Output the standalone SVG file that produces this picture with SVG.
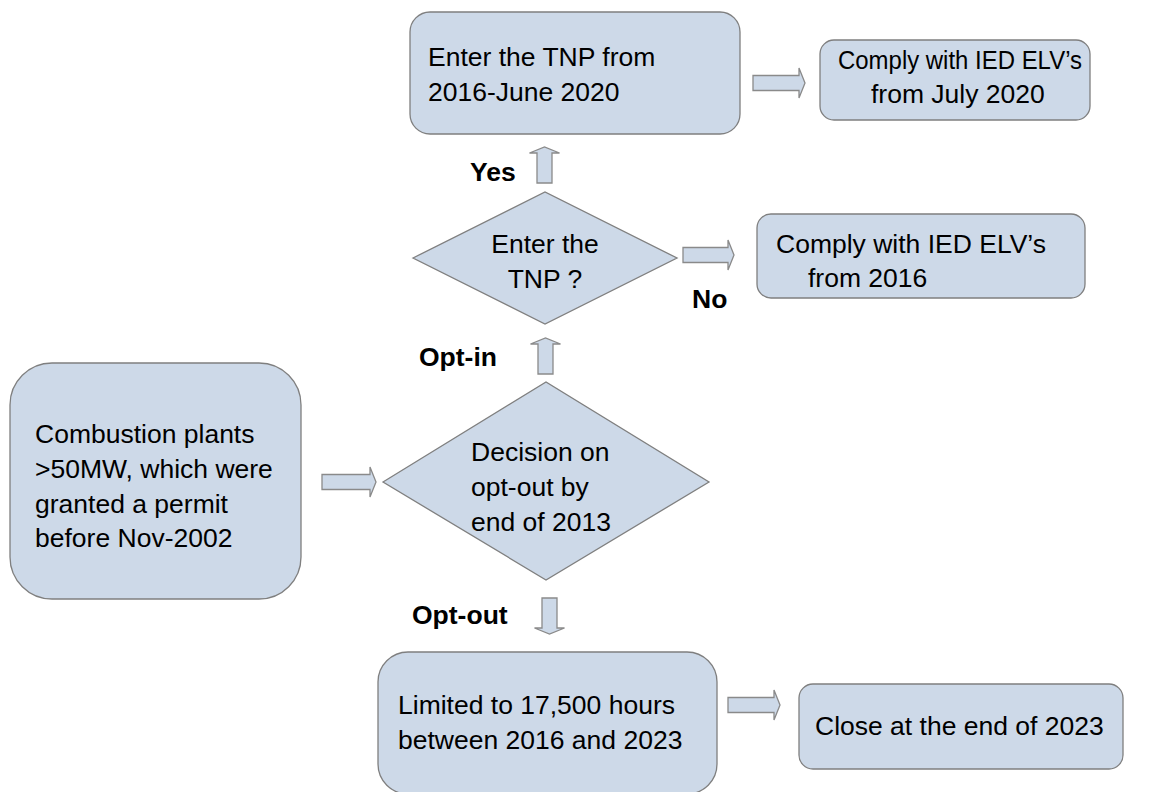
<svg xmlns="http://www.w3.org/2000/svg" width="1159" height="792" viewBox="0 0 1159 792">
<style>
.n{fill:#cdd9e8;stroke:#7f7f7f;stroke-width:1.3}
.a{fill:#cdd9e8;stroke:#8a8a8a;stroke-width:1.3}
.t{font-family:"Liberation Sans",Arial,sans-serif;font-size:26.5px;fill:#000}
.b{font-family:"Liberation Sans",Arial,sans-serif;font-size:26.5px;font-weight:bold;fill:#000}
</style>
<rect width="1159" height="792" fill="#fff"/>
<g id="connectors">
<path class="a" d="M753,75.5 h46 v-7.5 l6,15 l-6,15 v-7.5 h-46 z"/>
<path class="a" d="M537,183 v-30 h-7.5 l15,-6 l15,6 h-7.5 v30 z"/>
<path class="a" d="M683,247.5 h45 v-7.5 l6,15 l-6,15 v-7.5 h-45 z"/>
<path class="a" d="M538,374 v-30 h-7.5 l15,-6 l15,6 h-7.5 v30 z"/>
<path class="a" d="M322,474.5 h48 v-7.5 l6,15 l-6,15 v-7.5 h-48 z"/>
<path class="a" d="M542,598 v30 h-7.5 l15,6 l15,-6 h-7.5 v-30 z"/>
<path class="a" d="M728,697.5 h46 v-7.5 l6,15 l-6,15 v-7.5 h-46 z"/>
</g>
<g id="n1">
<rect class="n" x="410" y="12" width="330" height="122" rx="20"/>
<text class="t" x="428" y="66">Enter the TNP from</text>
<text class="t" x="428" y="101">2016-June 2020</text>
</g>
<g id="n2">
<rect class="n" x="820" y="40" width="270" height="80" rx="14"/>
<text class="t" x="838" y="69" textLength="244" lengthAdjust="spacingAndGlyphs">Comply with IED ELV’s</text>
<text class="t" x="871" y="103">from July 2020</text>
</g>
<g id="lyes"><text class="b" x="470" y="181">Yes</text></g>
<g id="n3">
<polygon class="n" points="413,258 545,192 677,258 545,324"/>
<text class="t" x="545" y="253" text-anchor="middle">Enter the</text>
<text class="t" x="545" y="288" text-anchor="middle">TNP ?</text>
</g>
<g id="lno"><text class="b" x="692" y="308">No</text></g>
<g id="n4">
<rect class="n" x="757" y="214" width="328" height="84" rx="14"/>
<text class="t" x="776" y="253">Comply with IED ELV’s</text>
<text class="t" x="808" y="287">from 2016</text>
</g>
<g id="lin"><text class="b" x="419" y="366">Opt-in</text></g>
<g id="n5">
<polygon class="n" points="383,482 546,382 709,482 546,580"/>
<text class="t" x="471" y="461">Decision on</text>
<text class="t" x="471" y="496">opt-out by</text>
<text class="t" x="471" y="531">end of 2013</text>
</g>
<g id="n6">
<rect class="n" x="10" y="363" width="291" height="236" rx="42"/>
<text class="t" x="35" y="443">Combustion plants</text>
<text class="t" x="35" y="478">&gt;50MW, which were</text>
<text class="t" x="35" y="513">granted a permit</text>
<text class="t" x="35" y="547">before Nov-2002</text>
</g>
<g id="lout"><text class="b" x="412" y="624">Opt-out</text></g>
<g id="n7">
<rect class="n" x="378" y="652" width="339" height="142" rx="30"/>
<text class="t" x="398" y="714">Limited to 17,500 hours</text>
<text class="t" x="398" y="749">between 2016 and 2023</text>
</g>
<g id="n8">
<rect class="n" x="799" y="684" width="324" height="85" rx="14"/>
<text class="t" x="815" y="735">Close at the end of 2023</text>
</g>
</svg>
